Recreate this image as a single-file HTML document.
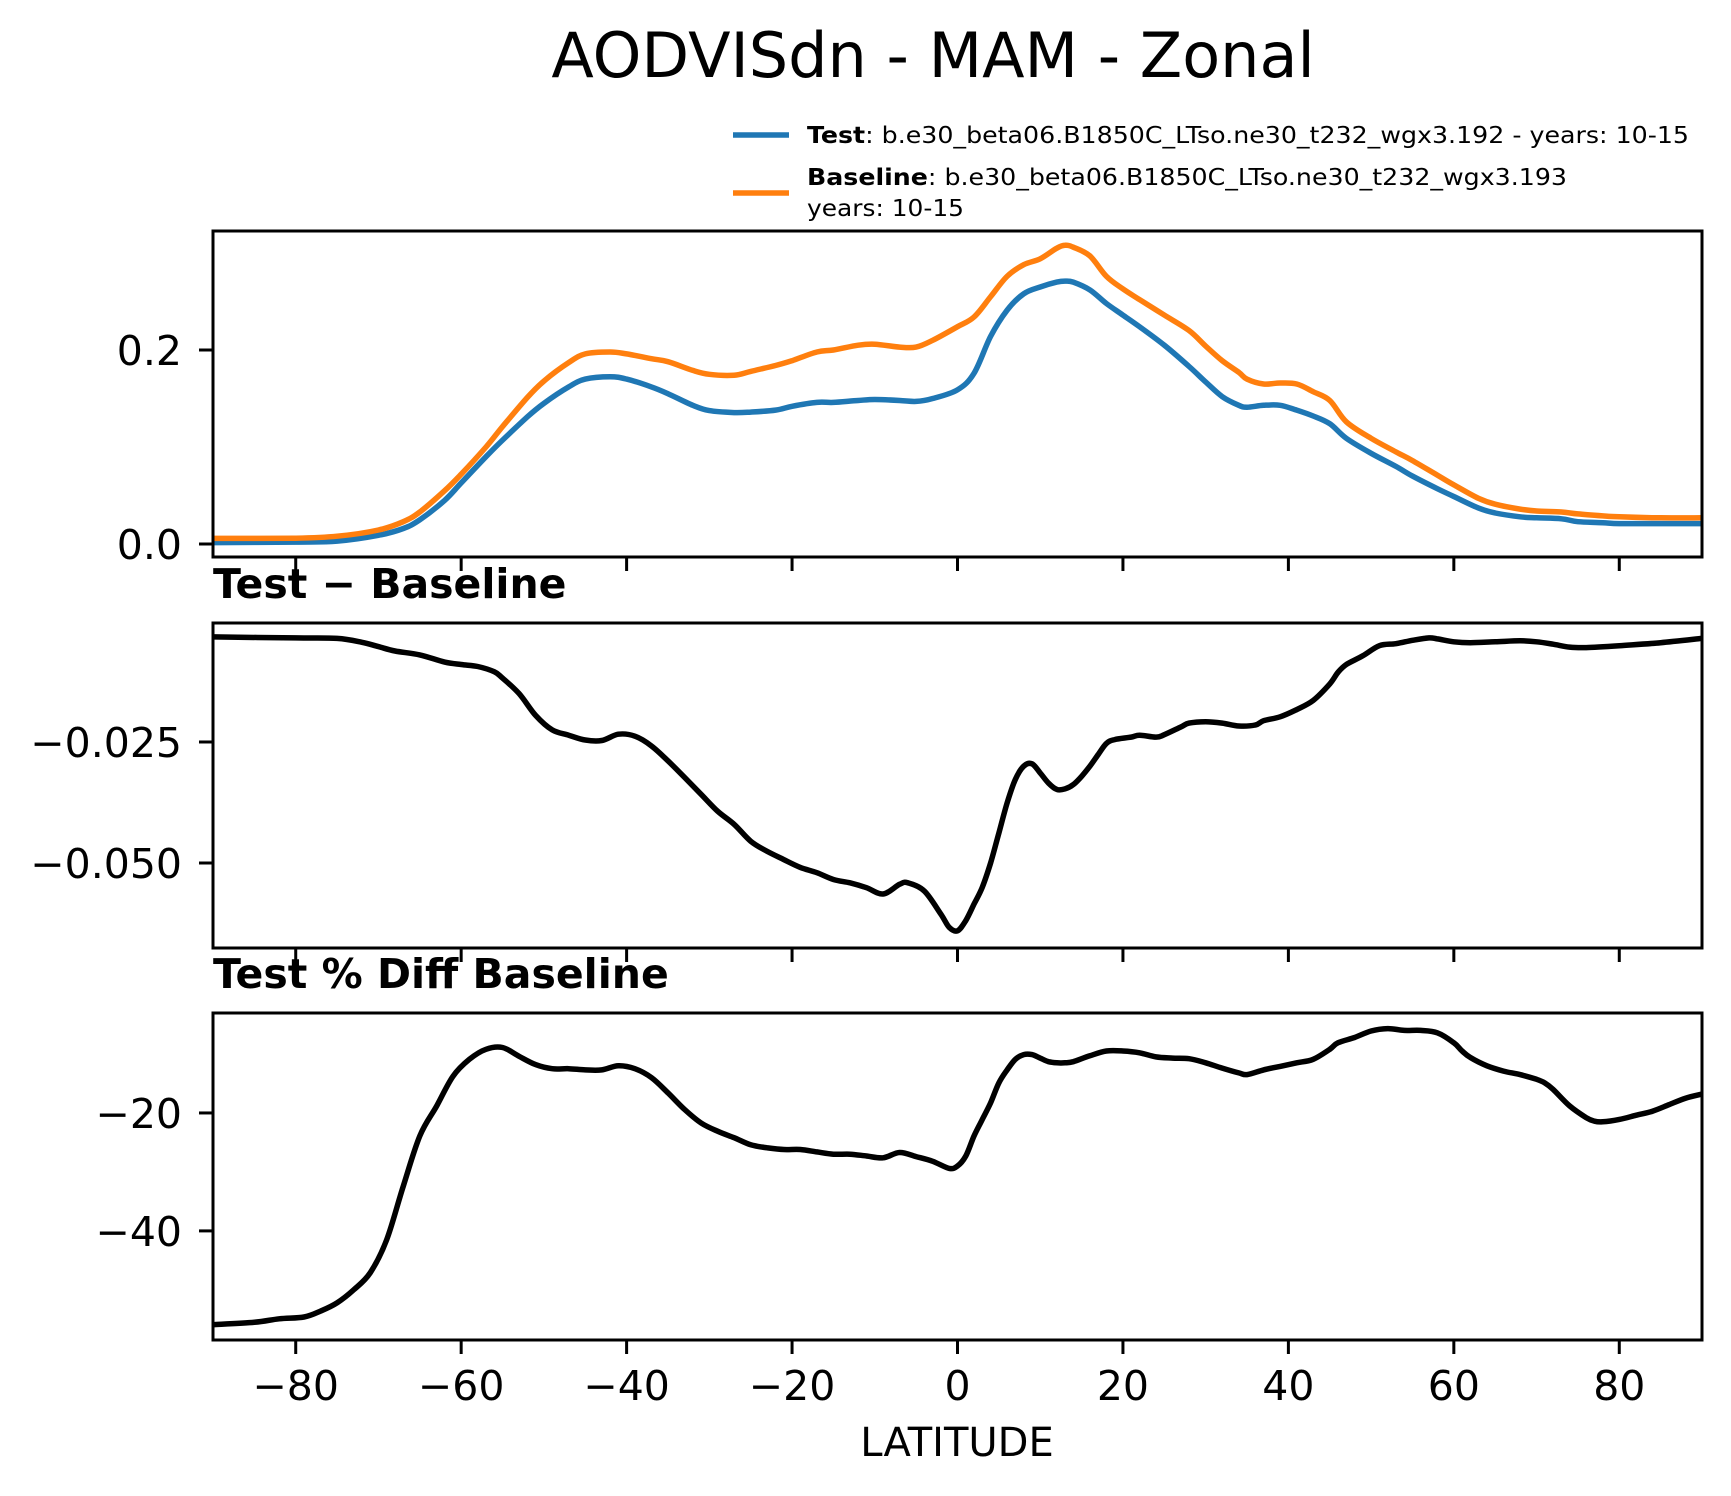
<!DOCTYPE html>
<html><head><meta charset="utf-8"><style>
html,body{margin:0;padding:0;background:#fff;}
svg{display:block;font-family:"DejaVu Sans","Liberation Sans",sans-serif;}
</style></head><body>
<svg id="fig" width="1731" height="1496" viewBox="0 0 1731 1496" xmlns="http://www.w3.org/2000/svg">
<rect width="1731" height="1496" fill="#fff"/>
<text x="933" y="77" font-size="62" text-anchor="middle">AODVISdn - MAM - Zonal</text>
<g>
<line x1="733" y1="135" x2="789" y2="135" stroke="#1f77b4" stroke-width="5.5"/>
<text x="807" y="143" font-size="23" textLength="882" lengthAdjust="spacingAndGlyphs"><tspan font-weight="bold">Test</tspan>: b.e30_beta06.B1850C_LTso.ne30_t232_wgx3.192 - years: 10-15</text>
<line x1="733" y1="193" x2="789" y2="193" stroke="#ff7f0e" stroke-width="5.5"/>
<text x="807" y="185" font-size="23" textLength="760" lengthAdjust="spacingAndGlyphs"><tspan font-weight="bold">Baseline</tspan>: b.e30_beta06.B1850C_LTso.ne30_t232_wgx3.193</text>
<text x="807" y="216" font-size="23" textLength="157" lengthAdjust="spacingAndGlyphs">years: 10-15</text>
</g>
<text x="213" y="598" font-size="41" font-weight="bold">Test − Baseline</text>
<text x="213" y="988" font-size="41" font-weight="bold">Test % Diff Baseline</text>
<text x="957" y="1456" font-size="40" text-anchor="middle">LATITUDE</text>
</svg>
<script>
const xTicks = [-80,-60,-40,-20,0,20,40,60,80];
const topTicks = [0.0,0.2];
const topTickLabels = ["0.0","0.2"];
const diffTicks = [-0.025,-0.050];
const diffTickLabels = ["\u22120.025","\u22120.050"];
const pctTicks = [-20,-40];
const pctTickLabels = ["\u221220","\u221240"];

const topLat = [-90,-80,-75,-70,-67,-65,-62,-60,-57,-55,-52,-50,-47,-45,-42,-40,-37,-35,-32,-30,-27,-25,-22,-20,-17,-15,-12,-10,-7,-5,-3,0,2,4,6,8,10,12,13,14,16,18,20,22,25,28,30,32,34,35,37,39,41,43,45,47,50,53,55,58,60,63,65,68,70,73,75,78,80,85,90];
const testVals = [0.0014,0.002,0.003,0.009,0.016,0.025,0.045,0.063,0.090,0.107,0.131,0.145,0.162,0.170,0.1725,0.170,0.162,0.155,0.143,0.1375,0.1355,0.136,0.138,0.142,0.146,0.146,0.148,0.149,0.148,0.147,0.150,0.159,0.176,0.214,0.241,0.258,0.265,0.270,0.271,0.270,0.262,0.248,0.236,0.224,0.205,0.183,0.167,0.152,0.143,0.141,0.143,0.143,0.138,0.132,0.124,0.109,0.0935,0.080,0.070,0.057,0.049,0.037,0.032,0.028,0.027,0.026,0.023,0.022,0.021,0.021,0.021];
const baseVals = [0.0058,0.006,0.008,0.0144,0.023,0.033,0.055,0.072,0.100,0.121,0.151,0.168,0.187,0.196,0.198,0.196,0.191,0.188,0.179,0.175,0.174,0.178,0.184,0.189,0.198,0.200,0.205,0.206,0.203,0.203,0.210,0.224,0.234,0.255,0.276,0.288,0.294,0.305,0.308,0.306,0.297,0.276,0.263,0.252,0.236,0.220,0.204,0.189,0.177,0.170,0.165,0.166,0.165,0.157,0.148,0.126,0.109,0.095,0.086,0.071,0.061,0.047,0.041,0.036,0.034,0.033,0.031,0.029,0.028,0.027,0.027];

const diffLat = [-90,-80,-75,-72,-70,-68,-65,-62,-60,-58,-56,-55,-53,-51,-49,-47,-45,-43,-41,-39,-37,-35,-33,-31,-29,-27,-25,-23,-21,-19,-17,-15,-13,-11,-9,-7,-6,-4,-2,-1,0,1,2,3,4,5,6,7,8,9,10,11,12,13,14,15,16,17,18,19,21,22,24,25,27,28,30,32,34,36,37,39,41,43,45,46,47,49,51,53,55,57,58,60,62,65,68,70,72,74,76,80,85,90];
const diffVals = [-0.0033,-0.0035,-0.0036,-0.0044,-0.0053,-0.0062,-0.007,-0.0085,-0.009,-0.0094,-0.0105,-0.0118,-0.015,-0.0195,-0.0225,-0.0236,-0.0246,-0.0247,-0.0234,-0.0238,-0.0258,-0.0289,-0.0323,-0.0358,-0.0393,-0.042,-0.0455,-0.0476,-0.0493,-0.0509,-0.052,-0.0534,-0.0541,-0.0551,-0.0564,-0.0544,-0.0541,-0.0558,-0.0606,-0.0633,-0.064,-0.0619,-0.0585,-0.055,-0.050,-0.0438,-0.0376,-0.0327,-0.030,-0.0295,-0.0314,-0.0335,-0.0348,-0.0347,-0.0338,-0.0321,-0.030,-0.0276,-0.0253,-0.0245,-0.024,-0.0236,-0.024,-0.0235,-0.0219,-0.0211,-0.0208,-0.0211,-0.0217,-0.0215,-0.0206,-0.0198,-0.0183,-0.0164,-0.013,-0.0106,-0.009,-0.0072,-0.0051,-0.0047,-0.004,-0.0035,-0.0037,-0.0043,-0.0045,-0.0043,-0.0041,-0.0043,-0.0048,-0.0054,-0.0055,-0.0051,-0.0045,-0.0036];

const pctLat = [-90,-85,-82,-79,-77,-75,-73,-71,-69,-67,-65,-63,-61,-59,-57,-55,-53,-51,-49,-47,-45,-43,-41,-39,-37,-35,-33,-31,-29,-27,-25,-23,-21,-19,-17,-15,-13,-11,-9,-7,-5,-3,-1,0,1,2,3,4,5,6,7,8,9,10,11,12,13,14,16,18,20,22,24,26,28,30,32,34,35,37,39,41,43,45,46,48,50,52,54,56,58,60,61,62,64,66,68,70,71,72,74,76,77,78,80,82,84,86,88,90];
const pctVals = [-55.9,-55.5,-54.9,-54.6,-53.6,-52.2,-50.0,-47.1,-41.5,-32.4,-23.9,-18.9,-13.8,-10.9,-9.2,-8.9,-10.4,-11.8,-12.5,-12.5,-12.7,-12.7,-12.0,-12.5,-14.0,-16.6,-19.4,-21.7,-23.1,-24.2,-25.4,-25.9,-26.2,-26.2,-26.6,-27.0,-27.0,-27.3,-27.6,-26.7,-27.4,-28.2,-29.4,-29.0,-27.3,-23.9,-21.1,-18.3,-14.9,-12.7,-10.9,-10.1,-10.1,-10.7,-11.3,-11.5,-11.5,-11.3,-10.3,-9.5,-9.5,-9.8,-10.5,-10.7,-10.8,-11.5,-12.4,-13.2,-13.5,-12.7,-12.1,-11.5,-10.9,-9.2,-8.1,-7.2,-6.1,-5.7,-6.0,-6.0,-6.4,-8.1,-9.5,-10.6,-12.0,-12.9,-13.5,-14.3,-14.9,-16.0,-18.8,-20.8,-21.4,-21.5,-21.1,-20.4,-19.7,-18.6,-17.5,-16.8];

const NS = "http://www.w3.org/2000/svg";
const svg = document.getElementById('fig');
const X0 = 213, X1 = 1702;
function xScale(lat){ return X0 + (lat + 90) / 180 * (X1 - X0); }
function mkY(top, bottom, vTop, vBot){ return v => top + (vTop - v) / (vTop - vBot) * (bottom - top); }

const panels = [
  {name:'top', top:231, bottom:557, vTop:0.3227, vBot:-0.0134, ticks:topTicks, labels:topTickLabels, xlabels:false},
  {name:'diff', top:623, bottom:948, vTop:-0.00042, vBot:-0.06756, ticks:diffTicks, labels:diffTickLabels, xlabels:false},
  {name:'pct', top:1013, bottom:1340, vTop:-3.05, vBot:-58.5, ticks:pctTicks, labels:pctTickLabels, xlabels:true}
];

function el(tag, attrs){ const e = document.createElementNS(NS, tag); for (const k in attrs) e.setAttribute(k, attrs[k]); return e; }

function path(lats, vals, y, color, name){
  const pts = lats.map((l, i) => [xScale(l), y(vals[i])]);
  let d = 'M' + pts[0][0].toFixed(1) + ' ' + pts[0][1].toFixed(1);
  for (let i = 0; i < pts.length - 1; i++) {
    const p0 = pts[Math.max(0, i-1)], p1 = pts[i], p2 = pts[i+1], p3 = pts[Math.min(pts.length-1, i+2)];
    const c1x = p1[0] + (p2[0]-p0[0])/6, c1y = p1[1] + (p2[1]-p0[1])/6;
    const c2x = p2[0] - (p3[0]-p1[0])/6, c2y = p2[1] - (p3[1]-p1[1])/6;
    d += 'C' + c1x.toFixed(1) + ' ' + c1y.toFixed(1) + ' ' + c2x.toFixed(1) + ' ' + c2y.toFixed(1) + ' ' + p2[0].toFixed(1) + ' ' + p2[1].toFixed(1);
  }
  const p = el('path', {d:d, fill:'none', stroke:color, 'stroke-width':5.5, 'stroke-linejoin':'round', 'stroke-linecap':'round'});
  
  
  return p;
}

panels.forEach(P => {
  const y = mkY(P.top, P.bottom, P.vTop, P.vBot);
  const g = el('g', {});
  
  
  const clipId = 'clip-' + P.name;
  const cp = el('clipPath', {id: clipId});
  cp.appendChild(el('rect', {x:X0, y:P.top, width:X1-X0, height:P.bottom-P.top}));
  g.appendChild(cp);
  const lines = el('g', {'clip-path':'url(#' + clipId + ')'});
  
  
  if (P.name === 'top') {
    lines.appendChild(path(topLat, testVals, y, '#1f77b4', 'test-line'));
    lines.appendChild(path(topLat, baseVals, y, '#ff7f0e', 'baseline-line'));
  } else if (P.name === 'diff') {
    lines.appendChild(path(diffLat, diffVals, y, '#000', 'difference-line'));
  } else {
    lines.appendChild(path(pctLat, pctVals, y, '#000', 'percent-diff-line'));
  }
  g.appendChild(lines);
  xTicks.forEach(t => {
    const tk = el('line', {x1:xScale(t), x2:xScale(t), y1:P.bottom, y2:P.bottom+14, stroke:'#000', 'stroke-width':3});
    
    
    g.appendChild(tk);
    if (P.xlabels) {
      const tx = el('text', {x:xScale(t), y:1400, 'font-size':41, 'text-anchor':'middle'});
      tx.textContent = (t < 0 ? '\u2212' : '') + Math.abs(t);
      
      
      g.appendChild(tx);
    }
  });
  P.ticks.forEach((t, i) => {
    const yy = y(t);
    const tk = el('line', {x1:X0-14, x2:X0, y1:yy, y2:yy, stroke:'#000', 'stroke-width':3});
    
    
    g.appendChild(tk);
    const tx = el('text', {x:182, y:yy+15, 'font-size':41, 'text-anchor':'end'});
    tx.textContent = P.labels[i];
    
    
    g.appendChild(tx);
  });
  const fr = el('rect', {x:X0, y:P.top, width:X1-X0, height:P.bottom-P.top, fill:'none', stroke:'#000', 'stroke-width':3});
  
  
  g.appendChild(fr);
  svg.appendChild(g);
});
</script>
</body></html>
